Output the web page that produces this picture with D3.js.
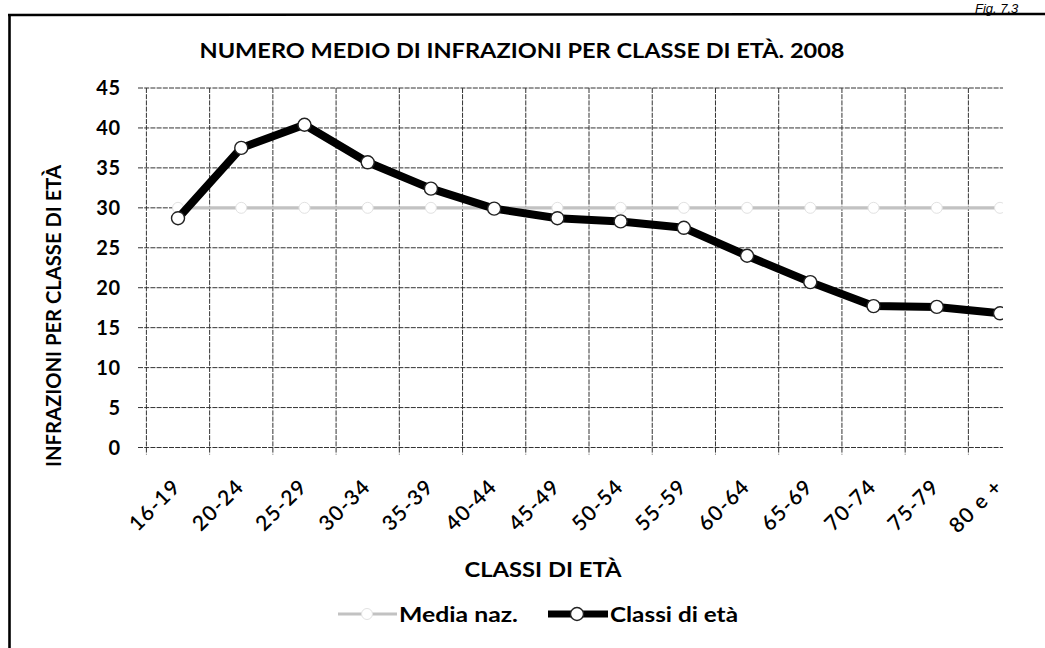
<!DOCTYPE html>
<html>
<head>
<meta charset="utf-8">
<script src="https://cdn.jsdelivr.net/npm/d3@7/dist/d3.min.js"></script>
<style>
  html, body { margin: 0; padding: 0; background: #fff; }
  svg { display: block; }
  text { font-family: Lato, "DejaVu Sans", sans-serif; }
</style>
</head>
<body>
<svg id="chart" width="1045" height="648"></svg>
<script>
// ---- data ----
const categories = ["16-19","20-24","25-29","30-34","35-39","40-44","45-49","50-54","55-59","60-64","65-69","70-74","75-79","80 e +"];
const classiValues = [28.7, 37.5, 40.4, 35.7, 32.4, 29.9, 28.7, 28.3, 27.5, 24.0, 20.7, 17.7, 17.6, 16.8];
const mediaValues = [30, 30, 30, 30, 30, 30, 30, 30, 30, 30, 30, 30, 30, 30];
const yTicks = [0, 5, 10, 15, 20, 25, 30, 35, 40, 45];
const seriesNames = ["Media naz.", "Classi di età"];
const titleText = "NUMERO MEDIO DI INFRAZIONI PER CLASSE DI ETÀ. 2008";
const xTitle = "CLASSI DI ETÀ";
const yTitle = "INFRAZIONI PER CLASSE DI ETÀ";
const figText = "Fig. 7.3";

const svg = d3.select("#chart");
const W = 1045, H = 648;

// frame
svg.append("line").attr("x1", 9.5).attr("x2", 9.5).attr("y1", 14).attr("y2", H)
  .attr("stroke", "#000").attr("stroke-width", 2.6);
svg.append("line").attr("x1", 8).attr("x2", W).attr("y1", 15).attr("y2", 14)
  .attr("stroke", "#000").attr("stroke-width", 2.4);
svg.append("text").attr("x", 975).attr("y", 12.5).attr("font-size", 13)
  .attr("font-style", "italic").style("font-family", "'Liberation Sans', Arial, sans-serif")
  .attr("fill", "#000").text(figText);

// scales
const x = d3.scaleBand().domain(categories).range([146.4, 146.4 + 63.23 * categories.length]).padding(0);
const y = d3.scaleLinear().domain([0, 45]).range([447.5, 88]);
const cx = d => x(d) + x.bandwidth() / 2;
const clipRight = 1003;

svg.append("clipPath").attr("id", "plotclip").append("rect")
  .attr("x", 0).attr("y", 0).attr("width", clipRight).attr("height", H);

const g = svg.append("g").attr("clip-path", "url(#plotclip)");

// horizontal gridlines (with left tick stubs)
g.selectAll("line.hgrid").data(yTicks).join("line").attr("class", "hgrid")
  .attr("x1", 138).attr("x2", 1040)
  .attr("y1", d => y(d)).attr("y2", d => y(d))
  .attr("stroke", "#333").attr("stroke-width", 1).attr("stroke-dasharray", "5,1.2");

// vertical gridlines (band boundaries, extended below as ticks)
const bounds = categories.map(c => x(c)).concat([x(categories[categories.length - 1]) + x.bandwidth()]);
g.selectAll("line.vgrid").data(bounds).join("line").attr("class", "vgrid")
  .attr("x1", d => d).attr("x2", d => d)
  .attr("y1", y(45)).attr("y2", y(0) + 7)
  .attr("stroke", "#333").attr("stroke-width", 1).attr("stroke-dasharray", "5,1.2");

// y tick labels
svg.selectAll("text.ytick").data(yTicks).join("text").attr("class", "ytick")
  .attr("x", 121).attr("y", d => y(d)).attr("dy", "0.36em")
  .attr("text-anchor", "end").attr("font-size", 20).attr("font-weight", 700)
  .attr("letter-spacing", 0.8)
  .attr("fill", "#000").text(d => d);

// x tick labels (rotated)
svg.selectAll("text.xtick").data(categories).join("text").attr("class", "xtick")
  .attr("text-anchor", "end").attr("font-size", 21).attr("font-weight", 600)
  .attr("letter-spacing", 1.2)
  .attr("transform", d => `translate(${cx(d) + 4},${488}) rotate(-45)`)
  .attr("fill", "#000").text(d => d);

// Media naz. line
const line = d3.line().x((d, i) => cx(categories[i])).y(d => y(d));
g.append("path").datum(mediaValues).attr("d", line)
  .attr("fill", "none").attr("stroke", "#c2c2c2").attr("stroke-width", 3.2);
g.selectAll("circle.media").data(mediaValues).join("circle").attr("class", "media")
  .attr("cx", (d, i) => cx(categories[i])).attr("cy", d => y(d)).attr("r", 5.5)
  .attr("fill", "#fff").attr("stroke", "#e2e2e2").attr("stroke-width", 1);

// Classi di età line
g.append("path").datum(classiValues).attr("d", line)
  .attr("fill", "none").attr("stroke", "#000").attr("stroke-width", 8)
  .attr("stroke-linejoin", "round");
g.selectAll("circle.classi").data(classiValues).join("circle").attr("class", "classi")
  .attr("cx", (d, i) => cx(categories[i])).attr("cy", d => y(d)).attr("r", 6.5)
  .attr("fill", "#fff").attr("stroke", "#222").attr("stroke-width", 1.4);

// titles
svg.append("text").attr("x", 522).attr("y", 58).attr("text-anchor", "middle")
  .attr("font-size", 20).attr("font-weight", 700)
  .attr("textLength", 645).attr("lengthAdjust", "spacingAndGlyphs")
  .attr("fill", "#000").text(titleText);

svg.append("text").attr("x", 543).attr("y", 577).attr("text-anchor", "middle")
  .attr("font-size", 20).attr("font-weight", 700)
  .attr("textLength", 157).attr("lengthAdjust", "spacingAndGlyphs")
  .attr("fill", "#000").text(xTitle);

svg.append("text").attr("transform", "translate(61,316) rotate(-90)").attr("text-anchor", "middle")
  .attr("font-size", 20).attr("font-weight", 700)
  .attr("textLength", 302).attr("lengthAdjust", "spacingAndGlyphs")
  .attr("fill", "#000").text(yTitle);

// legend
const leg = svg.append("g");
leg.append("line").attr("x1", 338).attr("x2", 397).attr("y1", 614).attr("y2", 614)
  .attr("stroke", "#c2c2c2").attr("stroke-width", 3.2);
leg.append("circle").attr("cx", 367).attr("cy", 614).attr("r", 5.5)
  .attr("fill", "#fff").attr("stroke", "#e2e2e2");
leg.append("text").attr("x", 399).attr("y", 622).attr("font-size", 20).attr("font-weight", 700)
  .attr("textLength", 119).attr("lengthAdjust", "spacingAndGlyphs")
  .attr("fill", "#000").text(seriesNames[0]);
leg.append("line").attr("x1", 548).attr("x2", 608).attr("y1", 614).attr("y2", 614)
  .attr("stroke", "#000").attr("stroke-width", 7);
leg.append("circle").attr("cx", 577).attr("cy", 614).attr("r", 6.5)
  .attr("fill", "#fff").attr("stroke", "#222").attr("stroke-width", 1.4);
leg.append("text").attr("x", 610).attr("y", 622).attr("font-size", 20).attr("font-weight", 700)
  .attr("textLength", 128).attr("lengthAdjust", "spacingAndGlyphs")
  .attr("fill", "#000").text(seriesNames[1]);
</script>
</body>
</html>
